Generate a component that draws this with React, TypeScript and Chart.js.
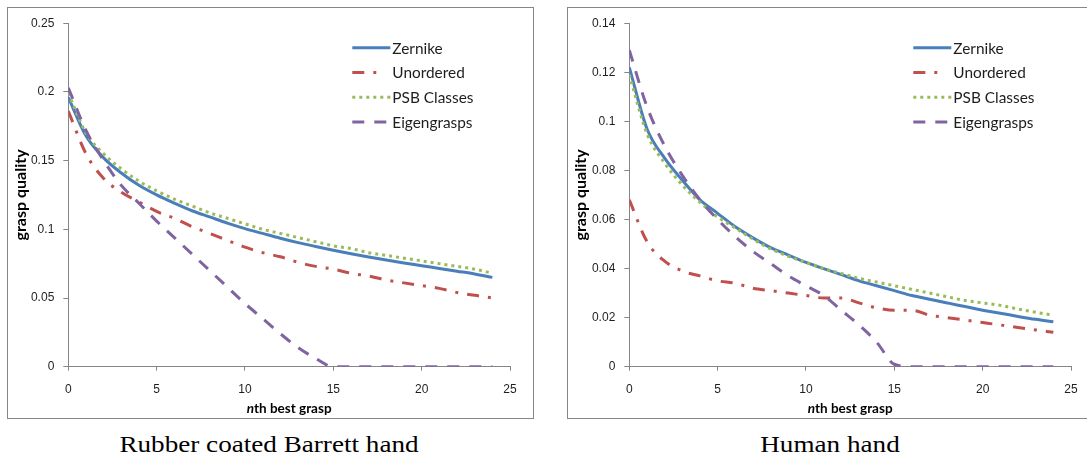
import React, { useEffect, useRef } from "react";
import { Chart, registerables } from "chart.js";

Chart.register(...registerables);

// ---------- data ----------
const xValues = [0, 1, 2, 3, 4, 5, 6, 7, 8, 9, 10, 11, 12, 13, 14, 15, 16, 17, 18, 19, 20, 21, 22, 23, 24];
const seriesNames = ["Zernike", "Unordered", "PSB Classes", "Eigengrasps"];
const xTickLabels = ["0", "5", "10", "15", "20", "25"];

const barrettZernike = [0.196, 0.168, 0.152, 0.141, 0.132, 0.125, 0.119, 0.1135, 0.109, 0.1045, 0.1005, 0.097, 0.0935, 0.0903, 0.0875, 0.0848, 0.0822, 0.0798, 0.0776, 0.0755, 0.0735, 0.0715, 0.0695, 0.0675, 0.065];
const barrettUnordered = [0.186, 0.155, 0.137, 0.127, 0.120, 0.113, 0.108, 0.102, 0.097, 0.092, 0.087, 0.083, 0.080, 0.076, 0.073, 0.071, 0.068, 0.066, 0.063, 0.061, 0.059, 0.057, 0.054, 0.052, 0.050];
const barrettPSB = [0.199, 0.170, 0.155, 0.144, 0.135, 0.128, 0.122, 0.117, 0.112, 0.108, 0.104, 0.100, 0.097, 0.094, 0.091, 0.088, 0.086, 0.083, 0.081, 0.079, 0.077, 0.075, 0.073, 0.071, 0.068];
const barrettEigen = [0.203, 0.172, 0.150, 0.132, 0.119, 0.106, 0.094, 0.082, 0.070, 0.058, 0.046, 0.035, 0.024, 0.014, 0.006, 0.000, 0, 0, 0, 0, 0, 0, 0, 0, 0];
const barrettYTicks = ["0", "0.05", "0.1", "0.15", "0.2", "0.25"];

const humanZernike = [0.122, 0.097, 0.085, 0.076, 0.068, 0.0625, 0.057, 0.0525, 0.0485, 0.0455, 0.0425, 0.040, 0.0375, 0.035, 0.033, 0.031, 0.029, 0.0275, 0.026, 0.0245, 0.023, 0.0218, 0.0205, 0.0193, 0.0183];
const humanUnordered = [0.068, 0.051, 0.043, 0.039, 0.037, 0.035, 0.034, 0.032, 0.031, 0.030, 0.029, 0.028, 0.028, 0.026, 0.024, 0.023, 0.023, 0.021, 0.020, 0.019, 0.018, 0.017, 0.016, 0.015, 0.014];
const humanPSB = [0.119, 0.095, 0.083, 0.074, 0.067, 0.061, 0.0565, 0.052, 0.048, 0.045, 0.0425, 0.040, 0.038, 0.036, 0.0345, 0.033, 0.0315, 0.030, 0.0285, 0.027, 0.026, 0.025, 0.0235, 0.0222, 0.021];
const humanEigen = [0.129, 0.106, 0.090, 0.078, 0.068, 0.060, 0.053, 0.047, 0.042, 0.037, 0.033, 0.029, 0.023, 0.017, 0.010, 0.001, 0, 0, 0, 0, 0, 0, 0, 0, 0];
const humanYTicks = ["0", "0.02", "0.04", "0.06", "0.08", "0.1", "0.12", "0.14"];

// ---------- styles ----------
const seriesColors = ["#4A7EBB", "#C0504D", "#9BBB59", "#8064A2"];
const seriesDash: number[][] = [[], [12, 9, 3, 9], [3, 4], [12, 10]];
const legendDash: number[][] = [[], [12, 9, 3, 40], [3, 4], [12, 10]];
const AXIS_COLOR = "#868686";
const TEXT_COLOR = "#1e1e1e";

const decoPlugin = {
  id: "deco",
  afterDraw(chart: any) {
    const { ctx, chartArea } = chart;
    ctx.save();
    // legend
    chart.data.datasets.forEach((ds: any, i: number) => {
      const y = chartArea.top + 24.5 + i * 24.8;
      const x0 = chartArea.left + 284;
      ctx.strokeStyle = ds.borderColor;
      ctx.lineWidth = 3;
      ctx.lineCap = "butt";
      ctx.setLineDash(legendDash[i]);
      ctx.beginPath();
      ctx.moveTo(x0, y);
      ctx.lineTo(x0 + 38, y);
      ctx.stroke();
      ctx.setLineDash([]);
      ctx.fillStyle = TEXT_COLOR;
      ctx.font = "15.4px Lato";
      ctx.textAlign = "left";
      ctx.textBaseline = "middle";
      ctx.fillText(ds.label, x0 + 40, y + 1);
    });
    // y title
    ctx.save();
    ctx.translate(14, (chartArea.top + chartArea.bottom) / 2);
    ctx.rotate(-Math.PI / 2);
    ctx.font = "bold 16px Lato";
    ctx.fillStyle = "#000";
    ctx.textAlign = "center";
    ctx.textBaseline = "middle";
    ctx.fillText("grasp quality", 0, 0);
    ctx.restore();
    // x title with italic n
    const cx = (chartArea.left + chartArea.right) / 2;
    const ty = chartArea.bottom + 41.5;
    const f1 = "italic bold 13.5px Lato";
    const f2 = "bold 13.5px Lato";
    ctx.font = f1;
    const w1 = ctx.measureText("n").width;
    ctx.font = f2;
    const w2 = ctx.measureText("th best grasp").width;
    const start = cx - (w1 + w2) / 2;
    ctx.fillStyle = "#000";
    ctx.textAlign = "left";
    ctx.textBaseline = "middle";
    ctx.font = f1;
    ctx.fillText("n", start, ty);
    ctx.font = f2;
    ctx.fillText("th best grasp", start + w1, ty);
    ctx.restore();
  },
};

type PanelProps = {
  left: number;
  series: number[][];
  yMax: number;
  yStep: number;
  yTicks: string[];
  caption: string;
  captionCenter: number;
  areaLeft: number;
};

const BOX_W = 527;
const BOX_H = 412;

function Panel({ left, series, yMax, yStep, yTicks, caption, captionCenter, areaLeft }: PanelProps) {
  const ref = useRef<HTMLCanvasElement>(null);
  useEffect(() => {
    const canvas = ref.current;
    if (!canvas) return;
    const areaRight = areaLeft + 441.7;
    const chart = new Chart(canvas, {
      type: "line",
      data: {
        datasets: series.map((vals, i) => ({
          label: seriesNames[i],
          data: vals.map((v, j) => ({ x: xValues[j], y: v })),
          borderColor: seriesColors[i],
          backgroundColor: seriesColors[i],
          borderWidth: 3,
          borderDash: seriesDash[i],
          borderCapStyle: "butt",
          pointRadius: 0,
          fill: false,
          cubicInterpolationMode: "monotone",
          order: 4 - i,
        })),
      },
      options: {
        responsive: false,
        animation: false,
        events: [],
        layout: { padding: { left: 0, top: 15.7, right: BOX_W - areaRight, bottom: 0 } },
        plugins: { legend: { display: false }, tooltip: { enabled: false } },
        scales: {
          x: {
            type: "linear",
            min: 0,
            max: 25,
            ticks: {
              stepSize: 5,
              autoSkip: false,
              maxRotation: 0,
              padding: 12,
              color: TEXT_COLOR,
              font: { family: "Liberation Sans", size: 12 },
              callback: (v: any) => xTickLabels[Math.round(Number(v) / 5)],
            },
            grid: { display: true, drawOnChartArea: false, drawTicks: true, tickLength: 4, color: AXIS_COLOR },
            border: { display: true, color: AXIS_COLOR, width: 1 },
            afterFit: (s: any) => {
              s.height = 52.3;
            },
          },
          y: {
            type: "linear",
            min: 0,
            max: yMax,
            ticks: {
              stepSize: yStep,
              autoSkip: false,
              padding: 9,
              color: TEXT_COLOR,
              font: { family: "Liberation Sans", size: 12 },
              callback: (v: any) => yTicks[Math.round(Number(v) / yStep)],
            },
            grid: { display: true, drawOnChartArea: false, drawTicks: true, tickLength: 5, color: AXIS_COLOR },
            border: { display: true, color: AXIS_COLOR, width: 1 },
            afterFit: (s: any) => {
              s.width = areaLeft;
            },
          },
        },
      } as any,
      plugins: [decoPlugin],
    });
    return () => chart.destroy();
  }, []);

  return (
    <>
      <div
        style={{
          position: "absolute",
          left,
          top: 7,
          width: BOX_W,
          height: BOX_H,
          boxSizing: "border-box",
          border: `1px solid ${AXIS_COLOR}`,
        }}
      />
      <canvas
        ref={ref}
        width={BOX_W}
        height={BOX_H}
        style={{ position: "absolute", left, top: 7, width: BOX_W, height: BOX_H }}
      />
      <div
        style={{
          position: "absolute",
          left: captionCenter - 250,
          width: 500,
          top: 433.3,
          textAlign: "center",
          fontFamily: "'Liberation Serif', 'Times New Roman', serif",
          fontSize: 23,
          lineHeight: "23px",
          color: "#000",
          transform: "scaleX(1.18)",
          transformOrigin: "center",
          whiteSpace: "nowrap",
        }}
      >
        {caption}
      </div>
    </>
  );
}

export default function App() {
  return (
    <div
      style={{
        position: "fixed",
        left: 0,
        top: 0,
        width: 1087,
        height: 457,
        overflow: "hidden",
        background: "#fff",
      }}
    >
      <Panel
        left={7}
        series={[barrettZernike, barrettUnordered, barrettPSB, barrettEigen]}
        yMax={0.25}
        yStep={0.05}
        yTicks={barrettYTicks}
        caption="Rubber coated Barrett hand"
        captionCenter={269.3}
        areaLeft={61.3}
      />
      <Panel
        left={567}
        series={[humanZernike, humanUnordered, humanPSB, humanEigen]}
        yMax={0.14}
        yStep={0.02}
        yTicks={humanYTicks}
        caption="Human hand"
        captionCenter={830}
        areaLeft={62.3}
      />
    </div>
  );
}
